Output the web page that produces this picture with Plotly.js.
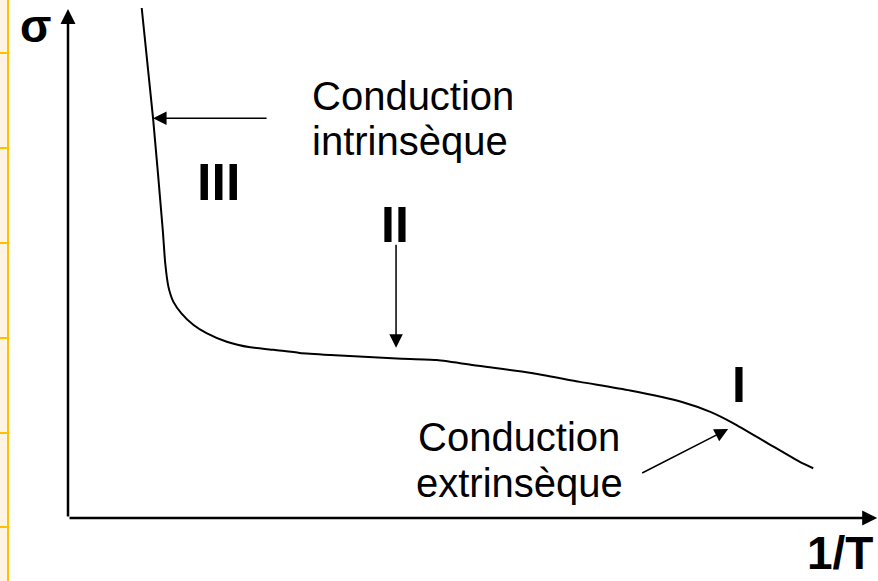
<!DOCTYPE html>
<html>
<head>
<meta charset="utf-8">
<script src="https://cdn.plot.ly/plotly-3.0.1.min.js"></script>
<style>html,body{margin:0;padding:0;background:#fff;}#chart{width:878px;height:581px;}</style>
</head>
<body>
<div id="chart"></div>
<script>
// Curve: conductivity sigma vs 1/T (arbitrary units, 0-100 scale)
const invT  = [9.1, 10.5, 11.7, 12.0, 12.4, 13.0, 14.0, 15.5, 17.1, 19.6, 22.5, 25.4, 28.6, 32.4, 40.6, 45.5, 50.9, 57.0, 63.2, 69.4, 75.9, 79.3, 82.1, 86.3, 90.4, 92.0];
const sigma = [100.4, 78.7, 56.7, 50.2, 45.5, 42.6, 40.3, 38.0, 36.4, 34.7, 33.6, 33.1, 32.5, 32.1, 31.4, 31.1, 29.9, 28.6, 26.8, 25.1, 22.8, 20.9, 18.7, 14.8, 11.0, 9.8];

const axisLabels = {x: '1/T', y: 'σ'};
const regionLabels = ['III', 'II', 'I'];
const intrinsicLabel = ['Conduction', 'intrinsèque'];
const extrinsicLabel = ['Conduction', 'extrinsèque'];

const PLOT_L = 68, PLOT_W = 810, PLOT_H = 518;
const px2px = p => (p - PLOT_L) / PLOT_W;   // pixel x -> paper x
const py2py = p => (PLOT_H - p) / PLOT_H;    // pixel y -> paper y

const txt = (text, x, y, size, bold, xanchor, xref, yref) => ({
  text: text, x: x, y: y, xref: xref || 'x', yref: yref || 'y',
  showarrow: false, xanchor: xanchor || 'center', yanchor: 'middle',
  font: {family: 'Liberation Sans, Arial, sans-serif', size: size, color: '#000', weight: bold ? 'bold' : 'normal'}
});
const arr = (x, y, ax, ay, w, s) => ({
  text: '', x: x, y: y, ax: ax, ay: ay, xref: 'x', yref: 'y', axref: 'x', ayref: 'y',
  showarrow: true, arrowhead: 2, arrowsize: s, arrowwidth: w, arrowcolor: '#000'
});

const annotations = [
  // axes
  arr(0, 100.2, 0, 0, 2.5, 1.2),
  arr(99.9, 0, 0, 0, 2.5, 1.2),
  // pointers
  arr(10.5, 78.7, 24.7, 78.7, 1.5, 1.8),
  arr(40.5, 33.5, 40.5, 54.1, 1.5, 1.8),
  arr(81.5, 17.5, 70.7, 8.7, 1.5, 1.8),
  // axis labels
  txt(axisLabels.y, px2px(35.6), py2py(25.8), 46, true, 'center', 'paper', 'paper'),
  txt(axisLabels.x, px2px(840), py2py(553), 46, true, 'center', 'paper', 'paper'),
  // region labels
  txt(regionLabels[0], 18.6, 66.1, 52, true),
  txt(regionLabels[1], 40.4, 57.7, 50, true),
  txt(regionLabels[2], 82.8, 26.2, 50, true),
  // explanations
  txt(intrinsicLabel[0], 29.85, 83.05, 40, false, 'left'),
  txt(intrinsicLabel[1], 29.85, 74.2, 40, false, 'left'),
  txt(extrinsicLabel[0], 55.7, 15.9, 40, false, 'center'),
  txt(extrinsicLabel[1], 55.8, 6.9, 40, false, 'center')
];

// decorative left strip (page border of the source slide)
const stripTicks = [53, 148, 243, 338, 433, 527];
const shapes = [
  {type: 'rect', xref: 'paper', yref: 'paper', x0: px2px(0), x1: px2px(8), y0: py2py(581), y1: py2py(0),
   fillcolor: '#FFF3E4', line: {width: 0}, layer: 'below'},
  {type: 'line', xref: 'paper', yref: 'paper', x0: px2px(8), x1: px2px(8), y0: py2py(581), y1: py2py(0),
   line: {color: '#FFC000', width: 2}}
].concat(stripTicks.map(t => ({type: 'line', xref: 'paper', yref: 'paper', x0: px2px(0), x1: px2px(8),
   y0: py2py(t), y1: py2py(t), line: {color: '#FFC000', width: 2}})));

const trace = {
  x: invT, y: sigma, mode: 'lines', type: 'scatter',
  line: {color: '#000', width: 2, shape: 'spline', smoothing: 0.6},
  hoverinfo: 'skip'
};

const hidden = {showgrid: false, zeroline: false, showticklabels: false, showline: false, ticks: '', fixedrange: true};
const layout = {
  width: 878, height: 581,
  margin: {l: PLOT_L, r: 0, t: 0, b: 63, pad: 0},
  paper_bgcolor: '#fff', plot_bgcolor: '#fff',
  showlegend: false,
  xaxis: Object.assign({range: [0, 100]}, hidden),
  yaxis: Object.assign({range: [0, 101.97]}, hidden),
  annotations: annotations,
  shapes: shapes
};

Plotly.newPlot('chart', [trace], layout, {displayModeBar: false, staticPlot: true});
</script>
</body>
</html>
